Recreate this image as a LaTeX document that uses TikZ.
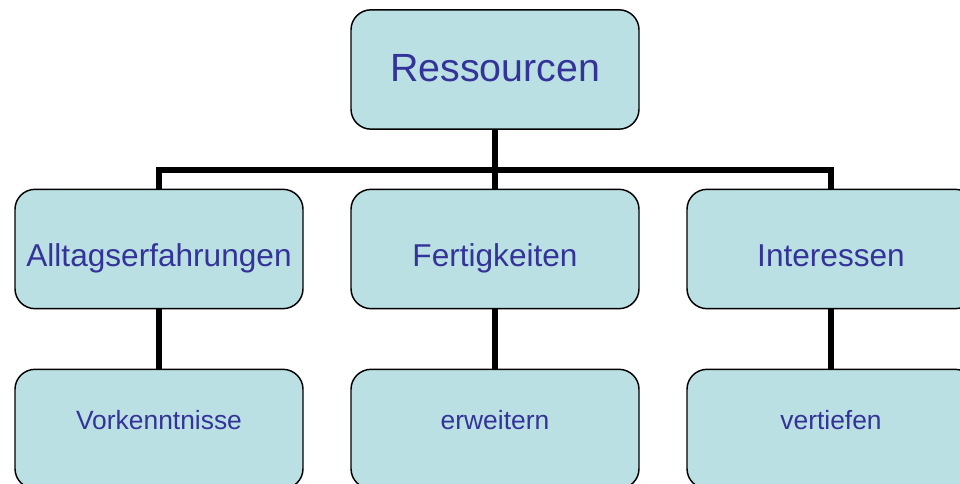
\documentclass[tikz,border=0pt]{standalone}
\usepackage{fontspec}
\setmainfont{Liberation Sans}
\definecolor{boxfill}{HTML}{BBE0E3}
\definecolor{boxtext}{HTML}{333399}
\begin{document}
\begin{tikzpicture}[x=0.75pt,y=-0.75pt,
  box/.style={draw=black,line width=1.1pt,fill=boxfill,rounded corners=15pt,
    minimum width=216pt,minimum height=89.5pt,inner sep=0pt},
  topbox/.style={box},
  conn/.style={line width=3.8pt,draw=black,line join=miter},
  lbl/.style={text=boxtext,anchor=base,inner sep=0pt},
  big/.style={lbl,font=\fontsize{29.5pt}{32pt}\selectfont},
  mid/.style={lbl,font=\fontsize{23.7pt}{26pt}\selectfont},
  small/.style={lbl,font=\fontsize{19.8pt}{22pt}\selectfont}]
\useasboundingbox (0,0) rectangle (960,484);
\clip (0,0) rectangle (960,484);
% boxes
\node[topbox] (top) at (495,69.5) {};
\node[box] (a) at (159,249) {};
\node[box] (b) at (495,249) {};
\node[box] (c) at (831,249) {};
\node[box] (a2) at (159,429) {};
\node[box] (b2) at (495,429) {};
\node[box] (c2) at (831,429) {};
% connectors
\coordinate (bar) at (0,170);
\draw[conn] (top.south) -- (top.south |- bar);
\draw[conn] (a.north) -- (a.north |- bar) -- (c.north |- bar) -- (c.north);
\draw[conn] (b.north |- bar) -- (b.north);
\draw[conn] (a.south) -- (a2.north);
\draw[conn] (b.south) -- (b2.north);
\draw[conn] (c.south) -- (c2.north);
% texts
\node[big] (ttop) at (495,82) {Ressourcen};
\node[mid] (ta) at (159,267) {Alltagserfahrungen};
\node[mid] (tb) at (495,267) {Fertigkeiten};
\node[mid] (tc) at (831,267) {Interessen};
\node[small] (ta2) at (159,429) {Vorkenntnisse};
\node[small] (tb2) at (495,429) {erweitern};
\node[small] (tc2) at (831,429) {vertiefen};
\end{tikzpicture}
\end{document}
